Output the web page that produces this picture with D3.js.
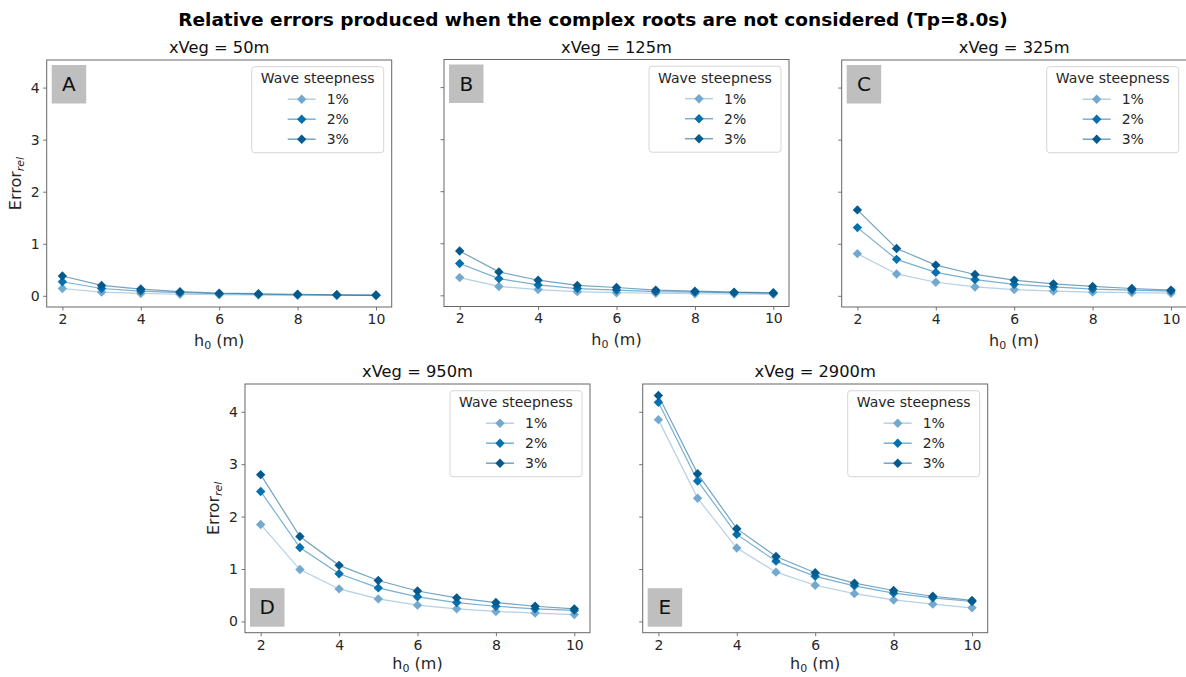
<!DOCTYPE html>
<html>
<head>
<meta charset="utf-8">
<script src="https://cdn.jsdelivr.net/npm/d3@7"></script>
<style>
  html, body { margin: 0; padding: 0; background: #fff; }
  svg { display: block; font-family: "DejaVu Sans", sans-serif; }
</style>
</head>
<body>
<svg id="chart" width="1186" height="677"></svg>
<script>
// Water depth h0 (m) on the x axis
const depths = [2, 3, 4, 5, 6, 7, 8, 9, 10];
const steepness = ["1%", "2%", "3%"];
const steepColors = ["#74a9cf", "#0570b0", "#045a8d"];
const xTicks = [2, 4, 6, 8, 10];
const yTicks = [0, 1, 2, 3, 4];

const panelLetters = ["A", "B", "C", "D", "E"];
const panelTitles = ["xVeg = 50m", "xVeg = 125m", "xVeg = 325m", "xVeg = 950m", "xVeg = 2900m"];

// Relative error per steepness (1%, 2%, 3%) for each vegetation length
const err50 = [
  [0.14, 0.07, 0.045, 0.03, 0.02, 0.015, 0.01, 0.01, 0.008],
  [0.27, 0.14, 0.09, 0.06, 0.04, 0.03, 0.02, 0.015, 0.01],
  [0.38, 0.20, 0.13, 0.08, 0.05, 0.04, 0.03, 0.02, 0.015]
];
const err125 = [
  [0.34, 0.17, 0.11, 0.07, 0.05, 0.04, 0.03, 0.025, 0.02],
  [0.61, 0.32, 0.20, 0.13, 0.10, 0.07, 0.06, 0.05, 0.04],
  [0.85, 0.45, 0.29, 0.19, 0.15, 0.10, 0.08, 0.06, 0.05]
];
const err325 = [
  [0.81, 0.42, 0.26, 0.17, 0.12, 0.09, 0.07, 0.06, 0.05],
  [1.31, 0.70, 0.45, 0.31, 0.22, 0.17, 0.13, 0.11, 0.09],
  [1.65, 0.91, 0.59, 0.41, 0.30, 0.23, 0.18, 0.14, 0.11]
];
const err950 = [
  [1.85, 0.99, 0.62, 0.43, 0.31, 0.24, 0.19, 0.16, 0.13],
  [2.48, 1.41, 0.91, 0.64, 0.47, 0.36, 0.29, 0.24, 0.21],
  [2.80, 1.62, 1.07, 0.78, 0.58, 0.45, 0.36, 0.29, 0.24]
];
const err2900 = [
  [3.85, 2.35, 1.40, 0.94, 0.69, 0.53, 0.41, 0.33, 0.26],
  [4.18, 2.68, 1.66, 1.15, 0.86, 0.68, 0.54, 0.45, 0.38],
  [4.31, 2.82, 1.77, 1.24, 0.93, 0.73, 0.59, 0.48, 0.40]
];
const panelErrors = [err50, err125, err325, err950, err2900];

// Axes boxes: position, size, letter corner, y tick labels, x label offset
const boxes = [
  { x: 46.7, y: 60, w: 345, h: 247, corner: "top", yLabels: true, xlOff: 38.5 },
  { x: 444, y: 59.5, w: 345, h: 247, corner: "top", yLabels: false, xlOff: 38.5 },
  { x: 841.7, y: 60, w: 345, h: 247, corner: "top", yLabels: false, xlOff: 38.5 },
  { x: 245, y: 384, w: 345, h: 248.7, corner: "bottom", yLabels: true, xlOff: 36 },
  { x: 642.7, y: 384, w: 345, h: 248.7, corner: "bottom", yLabels: false, xlOff: 36 }
];

const svg = d3.select("#chart");
const textColor = "#262626";
const spineColor = "#666";

svg.append("text")
  .attr("x", 593).attr("y", 26)
  .attr("text-anchor", "middle")
  .attr("font-size", 18.5).attr("font-weight", "bold")
  .attr("fill", "#000")
  .text("Relative errors produced when the complex roots are not considered (Tp=8.0s)");

const diamond = d3.symbol().type(d3.symbolSquare).size(44);

boxes.forEach((b, i) => {
  const g = svg.append("g").attr("transform", `translate(${b.x},${b.y})`);
  const x = d3.scaleLinear().domain([1.6, 10.4]).range([0, b.w]);
  const y = d3.scaleLinear().domain([-0.215, 4.53]).range([b.h, 0]);

  // title
  g.append("text")
    .attr("x", b.w / 2).attr("y", -7)
    .attr("text-anchor", "middle")
    .attr("font-size", 16.3).attr("fill", "#111")
    .text(panelTitles[i]);

  // axes
  const xAxis = d3.axisBottom(x).tickValues(xTicks).tickSize(3.5).tickPadding(3.5)
    .tickFormat(d3.format("d"));
  const gx = g.append("g").attr("transform", `translate(0,${b.h})`).call(xAxis);
  const yAxis = d3.axisLeft(y).tickValues(yTicks).tickSize(3.5).tickPadding(3.5)
    .tickFormat(b.yLabels ? d3.format("d") : () => "");
  const gy = g.append("g").call(yAxis);
  [gx, gy].forEach(a => {
    a.select(".domain").remove();
    a.selectAll(".tick line").attr("stroke", spineColor).attr("stroke-width", 0.9);
    a.selectAll(".tick text").attr("font-size", 14).attr("fill", textColor)
      .attr("font-family", "DejaVu Sans, sans-serif");
  });

  // panel letter badge
  const bx = 5, bw = 34.5, bh = 38.5;
  const by = b.corner === "top" ? 5 : b.h - 6 - bh;
  g.append("rect").attr("x", bx).attr("y", by).attr("width", bw).attr("height", bh)
    .attr("fill", "#bfbfbf");
  g.append("text").attr("x", bx + bw / 2).attr("y", by + bh / 2 + 7)
    .attr("text-anchor", "middle").attr("font-size", 20).attr("fill", "#111")
    .text(panelLetters[i]);

  // series
  const line = d3.line().x((d, k) => x(depths[k])).y(d => y(d));
  panelErrors[i].forEach((vals, s) => {
    g.append("path").datum(vals)
      .attr("d", line)
      .attr("fill", "none")
      .attr("stroke", steepColors[s])
      .attr("stroke-opacity", 0.55)
      .attr("stroke-width", 1.2);
    g.selectAll(null).data(vals).enter().append("path")
      .attr("d", diamond)
      .attr("transform", (d, k) => `translate(${x(depths[k])},${y(d)}) rotate(45)`)
      .attr("fill", steepColors[s]);
  });

  // spines
  g.append("rect").attr("x", 0).attr("y", 0).attr("width", b.w).attr("height", b.h)
    .attr("fill", "none").attr("stroke", spineColor).attr("stroke-width", 1);

  // legend
  const lw = 132, lh = 86;
  const lg = g.append("g").attr("transform", `translate(${b.w - 8 - lw},${6.7})`);
  lg.append("rect").attr("width", lw).attr("height", lh).attr("rx", 3)
    .attr("fill", "#fff").attr("fill-opacity", 0.85)
    .attr("stroke", "#d6d6d6").attr("stroke-width", 1);
  lg.append("text").attr("x", lw / 2).attr("y", 16.5)
    .attr("text-anchor", "middle").attr("font-size", 14).attr("fill", textColor)
    .text("Wave steepness");
  steepness.forEach((name, s) => {
    const ey = 32.5 + s * 20;
    lg.append("line").attr("x1", 36).attr("x2", 64).attr("y1", ey).attr("y2", ey)
      .attr("stroke", steepColors[s]).attr("stroke-opacity", 0.55).attr("stroke-width", 1.5);
    lg.append("path").attr("d", diamond)
      .attr("transform", `translate(50,${ey}) rotate(45)`)
      .attr("fill", steepColors[s]);
    lg.append("text").attr("x", 75).attr("y", ey + 5)
      .attr("font-size", 14).attr("fill", textColor).text(name);
  });

  // x label: h0 (m)
  const xl = g.append("text").attr("x", b.w / 2).attr("y", b.h + b.xlOff)
    .attr("text-anchor", "middle").attr("font-size", 16).attr("fill", textColor);
  xl.append("tspan").text("h");
  xl.append("tspan").attr("font-size", 11).attr("dy", 3).text("0");
  xl.append("tspan").attr("dy", -3).text(" (m)");

  // y label: Error_rel
  if (b.yLabels) {
    const yl = g.append("text")
      .attr("transform", `translate(-26,${b.h / 2}) rotate(-90)`)
      .attr("text-anchor", "middle").attr("font-size", 16).attr("fill", textColor);
    yl.append("tspan").text("Error");
    yl.append("tspan").attr("font-size", 11).attr("font-style", "italic").attr("dy", 3).text("rel");
  }
});
</script>
</body>
</html>
